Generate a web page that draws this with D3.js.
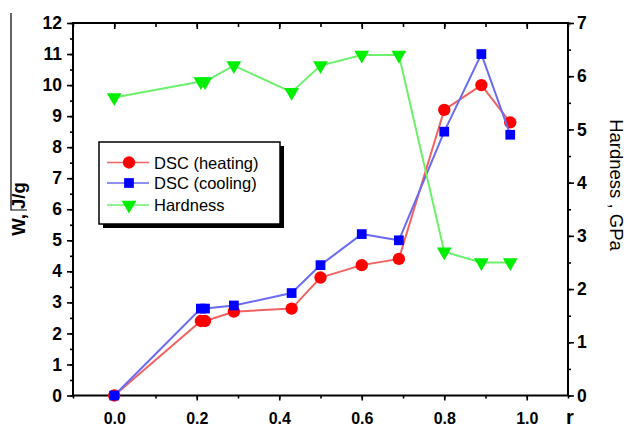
<!DOCTYPE html>
<html>
<head>
<meta charset="utf-8">
<script src="https://cdn.jsdelivr.net/npm/d3@7"></script>
<style>
	body { margin: 0; background: #fff; }
	svg { display: block; font-family: "Liberation Sans", Arial, sans-serif; }
</style>
</head>
<body>
<div id="chart"></div>
<script>

const rValues = [0.0, 0.21, 0.22, 0.29, 0.43, 0.50, 0.60, 0.69, 0.80, 0.89, 0.96];
const heating = [0, 2.4, 2.4, 2.7, 2.8, 3.8, 4.2, 4.4, 9.2, 10.0, 8.8];
const cooling = [0, 2.8, 2.8, 2.9, 3.3, 4.2, 5.2, 5.0, 8.5, 11.0, 8.4];
const hardness = [5.6, 5.9, 5.9, 6.2, 5.7, 6.2, 6.4, 6.4, 2.7, 2.5, 2.5];

const xTicks = [0.0, 0.2, 0.4, 0.6, 0.8, 1.0];
const leftTicks = d3.range(0, 13);
const rightTicks = d3.range(0, 8);
const seriesNames = ['DSC (heating)', 'DSC (cooling)', 'Hardness'];

class DualChart {

	constructor(options) {
		this.element = options.element;
		this.draw();
	}

	draw() {
		this.width = 629;
		this.height = 427;
		this.left = 73;
		this.right = 568;
		this.top = 23;
		this.bottom = 395.5;

		this.createSVG();
		this.createScales();
		this.createAxes();
		this.createLines();
		this.createLegend();
		this.createLabels();
	}

	createSVG() {
		this.svg = d3.select(this.element)
			.append('svg')
				.attr('width', this.width)
				.attr('height', this.height);
	}

	createScales() {
		this.xScale = d3.scaleLinear().domain([-0.1, 1.1]).range([this.left, this.right]);
		this.yLeft = d3.scaleLinear().domain([0, 12]).range([this.bottom, this.top]);
		this.yRight = d3.scaleLinear().domain([0, 7]).range([this.bottom, this.top]);
	}

	styleAxis(g, size) {
		g.selectAll('.domain').remove();
		g.selectAll('line').attr('stroke', '#000').attr('stroke-width', 1.6);
		g.selectAll('text')
			.attr('fill', '#000')
			.attr('font-weight', 'bold')
			.attr('font-size', size);
	}

	createAxes() {
		const minorX = d3.range(-0.1, 1.11, 0.1).map(v => Math.round(v * 10) / 10);
		const minorL = d3.range(0, 12.01, 0.5);
		const minorR = d3.range(0, 7.01, 0.5);

		// minor ticks
		this.svg.append('g')
			.attr('transform', `translate(0, ${this.bottom})`)
			.call(d3.axisBottom(this.xScale).tickValues(minorX).tickSize(3).tickFormat(''))
			.call(g => this.styleAxis(g, 0));
		this.svg.append('g')
			.attr('transform', `translate(0, ${this.top})`)
			.call(d3.axisBottom(this.xScale).tickValues(minorX).tickSize(4).tickFormat(''))
			.call(g => this.styleAxis(g, 0));
		this.svg.append('g')
			.attr('transform', `translate(${this.left}, 0)`)
			.call(d3.axisLeft(this.yLeft).tickValues(minorL).tickSize(3).tickFormat(''))
			.call(g => this.styleAxis(g, 0));
		this.svg.append('g')
			.attr('transform', `translate(${this.right}, 0)`)
			.call(d3.axisRight(this.yRight).tickValues(minorR).tickSize(3).tickFormat(''))
			.call(g => this.styleAxis(g, 0));

		// major ticks + labels
		this.svg.append('g')
			.attr('class', 'xAxis')
			.attr('transform', `translate(0, ${this.bottom})`)
			.call(d3.axisBottom(this.xScale).tickValues(xTicks).tickSize(5).tickPadding(12).tickFormat(d3.format('.1f')))
			.call(g => this.styleAxis(g, 16));
		this.svg.append('g')
			.attr('transform', `translate(0, ${this.top})`)
			.call(d3.axisBottom(this.xScale).tickValues(xTicks).tickSize(6).tickFormat(''))
			.call(g => this.styleAxis(g, 0));
		this.svg.append('g')
			.attr('class', 'yAxis')
			.attr('transform', `translate(${this.left}, 0)`)
			.call(d3.axisLeft(this.yLeft).tickValues(leftTicks).tickSize(6).tickPadding(5).tickFormat(d3.format('d')))
			.call(g => this.styleAxis(g, 17.5));
		this.svg.append('g')
			.attr('class', 'yAxis2')
			.attr('transform', `translate(${this.right}, 0)`)
			.call(d3.axisRight(this.yRight).tickValues(rightTicks).tickSize(6).tickPadding(3).tickFormat(d3.format('d')))
			.call(g => this.styleAxis(g, 17.5));

		// frame
		this.svg.append('rect')
			.attr('x', this.left)
			.attr('y', this.top)
			.attr('width', this.right - this.left)
			.attr('height', this.bottom - this.top)
			.attr('fill', 'none')
			.attr('stroke', '#000')
			.attr('stroke-width', 2);
	}

	createLines() {
		const that = this;

		this.series = [
			{ name: seriesNames[0], values: heating, y: this.yLeft, line: '#f26262', fill: '#ff0000', shape: d3.symbolCircle, size: 120 },
			{ name: seriesNames[1], values: cooling, y: this.yLeft, line: '#6b6bf0', fill: '#0000ff', shape: d3.symbolSquare, size: 95 },
			{ name: seriesNames[2], values: hardness, y: this.yRight, line: '#6cf06c', fill: '#00ee00', shape: d3.symbolTriangle, size: 95 }
		];

		this.bars = this.svg.append('g');

		this.series.forEach(s => {
			const pts = rValues.map((r, i) => [r, s.values[i]]);
			const line = d3.line()
				.x(d => that.xScale(d[0]))
				.y(d => s.y(d[1]));

			that.bars.append('path')
				.datum(pts)
				.attr('d', line)
				.attr('fill', 'none')
				.attr('stroke', s.line)
				.attr('stroke-width', 2);

			that.bars.selectAll(null)
				.data(pts)
				.enter()
				.append('path')
					.attr('d', d3.symbol().type(s.shape).size(s.size))
					.attr('transform', d => `translate(${that.xScale(d[0])}, ${s.y(d[1])})` + (s.shape === d3.symbolTriangle ? ' rotate(180)' : ''))
					.attr('fill', s.fill);
		});
	}

	createLegend() {
		const lg = this.svg.append('g').attr('transform', 'translate(99, 142)');
		const w = 181, h = 82;

		lg.append('rect')
			.attr('x', 4).attr('y', 4)
			.attr('width', w).attr('height', h)
			.attr('fill', '#000');
		lg.append('rect')
			.attr('width', w).attr('height', h)
			.attr('fill', '#fff')
			.attr('stroke', '#000')
			.attr('stroke-width', 1.5);

		const rowY = [20.5, 41, 63];

		this.series.forEach((s, i) => {
			const row = lg.append('g').attr('transform', `translate(0, ${rowY[i]})`);
			row.append('line')
				.attr('x1', 8).attr('x2', 50)
				.attr('stroke', s.line)
				.attr('stroke-width', 1.5);
			row.append('path')
				.attr('d', d3.symbol().type(s.shape).size(s.size))
				.attr('transform', 'translate(30, 0)' + (s.shape === d3.symbolTriangle ? ' rotate(180)' : ''))
				.attr('fill', s.fill);
			row.append('text')
				.attr('x', 55)
				.attr('y', 6)
				.attr('font-size', 16.5)
				.attr('fill', '#000')
				.text(s.name);
		});
	}

	createLabels() {
		this.svg.append('text')
			.attr('transform', 'translate(25, 209) rotate(-90)')
			.attr('text-anchor', 'middle')
			.attr('font-size', 18.5)
			.attr('font-weight', 'bold')
			.text('W, J/g');

		// scan artifact lines beside the left title
		this.svg.append('path')
			.attr('d', 'M11,13 L11,210 L27,210')
			.attr('fill', 'none')
			.attr('stroke', '#000')
			.attr('stroke-width', 1.2);

		this.svg.append('text')
			.attr('transform', 'translate(610, 185) rotate(90)')
			.attr('text-anchor', 'middle')
			.attr('font-size', 18.5)
			.text('Hardness , GPa');

		this.svg.append('text')
			.attr('x', 570)
			.attr('y', 424)
			.attr('text-anchor', 'middle')
			.attr('font-size', 20)
			.attr('font-weight', 'bold')
			.text('r');
	}

}

new DualChart({ element: '#chart' });

</script>
</body>
</html>
